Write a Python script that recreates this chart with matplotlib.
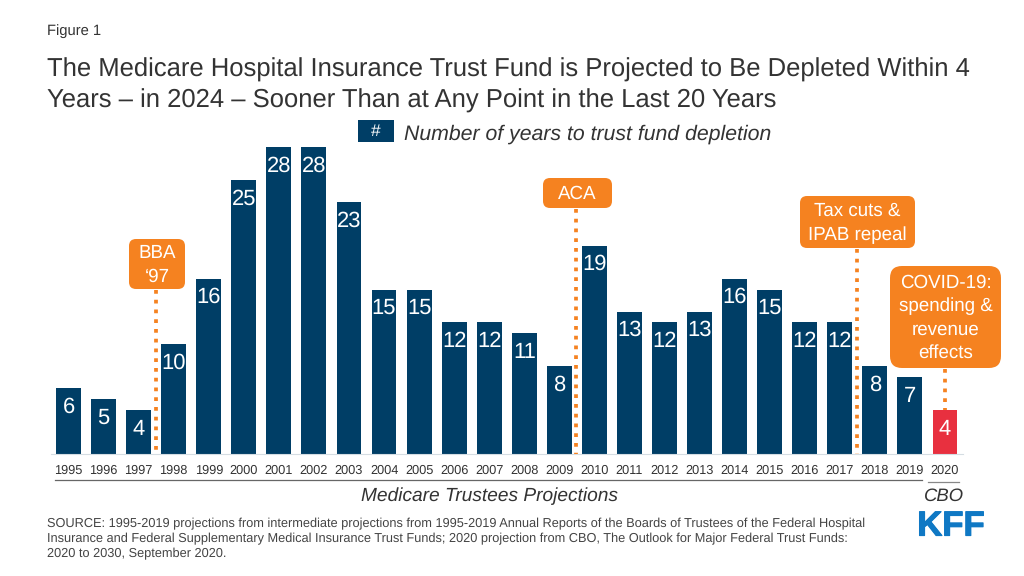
import matplotlib
matplotlib.use("Agg")
import matplotlib.pyplot as plt
import matplotlib.patheffects as pe
from matplotlib.patches import FancyBboxPatch, Rectangle

plt.rcParams["font.family"] = ["Liberation Sans", "DejaVu Sans"]
plt.rcParams["text.hinting"] = "no_hinting"
plt.rcParams["text.hinting_factor"] = 8

years = list(range(1995, 2021))
depletion_years = [6, 5, 4, 10, 16, 25, 28, 28, 23, 15, 15, 12, 12, 11, 8, 19, 13, 12, 13, 16, 15, 12, 12, 8, 7, 4]

title = ("The Medicare Hospital Insurance Trust Fund is Projected to Be Depleted Within 4\n"
         "Years \u2013 in 2024 \u2013 Sooner Than at Any Point in the Last 20 Years")
source = ("SOURCE: 1995-2019 projections from intermediate projections from 1995-2019 Annual Reports of the Boards of Trustees of the Federal Hospital\n"
          "Insurance and Federal Supplementary Medical Insurance Trust Funds; 2020 projection from CBO, The Outlook for Major Federal Trust Funds:\n"
          "2020 to 2030, September 2020.")

NAVY = "#003E66"
RED = "#E8303F"
ORANGE = "#F58220"
TEXT = "#333333"

fig = plt.figure(figsize=(10.24, 5.76), dpi=100, facecolor="white")

# bars, axes placed so one year = 35 px and one unit = 11 px
ax = fig.add_axes([51 / 1024, 122 / 576, 911.5 / 1024, 334 / 576])
colors = [NAVY] * (len(years) - 1) + [RED]
ax.bar(years, depletion_years, width=0.71, color=colors)
ax.set_xlim(1994.5, 2020.5)
ax.set_ylim(0, 334 / 10.96)
ax.set_xticks(years)
ax.set_xticklabels(years, fontsize=9.2, color=TEXT)
ax.tick_params(axis="x", length=0, pad=7.5)
ax.set_yticks([])
for side in ["top", "left", "right"]:
    ax.spines[side].set_visible(False)
ax.spines["bottom"].set_color("#d5dde3")
ax.patch.set_alpha(0)

for yr, val in zip(years, depletion_years):
    ax.annotate(str(val), (yr, val), xytext=(0, -13.5), textcoords="offset points",
                ha="center", va="center", color="white", fontsize=15.8)

# everything else in pixel coordinates
ov = fig.add_axes([0, 0, 1, 1])
ov.set_xlim(0, 1024)
ov.set_ylim(576, 0)
ov.axis("off")


def callout(x0, y0, x1, y1, text, dot_x, dot_top, dot_bottom, rad=7):
    ov.plot([dot_x, dot_x], [dot_top, dot_bottom], color=ORANGE, lw=2.7,
            linestyle=(0, (1, 1.6)), dash_capstyle="butt")
    ov.add_patch(FancyBboxPatch((x0 + rad, y0 + rad), x1 - x0 - 2 * rad, y1 - y0 - 2 * rad,
                                boxstyle=f"round,pad={rad},rounding_size={rad}",
                                fc=ORANGE, ec="none", zorder=3))
    ov.text((x0 + x1) / 2, (y0 + y1) / 2 + 1, text, color="white", fontsize=13.5,
            ha="center", va="center", linespacing=1.42, zorder=4)


callout(129, 239, 185, 289, "BBA\n\u201897", 156, 290, 454)
callout(543, 178, 612, 208, "ACA", 576, 209, 454)
callout(800, 196, 915, 248, "Tax cuts &\nIPAB repeal", 857, 249, 454)
callout(890, 266, 1001, 368, "COVID-19:\nspending &\nrevenue\neffects", 944.5, 369, 410, rad=12)

ov.text(47, 31, "Figure 1", fontsize=10.6, color=TEXT, va="center")
ov.text(47, 85.5, title, fontsize=18.42, color=TEXT, va="center", linespacing=1.36)

# legend chip
ov.add_patch(Rectangle((358, 120), 36, 22, fc=NAVY, ec="none"))
ov.text(376, 131.5, "#", color="white", fontsize=12.5, ha="center", va="center")
ov.text(404, 134.5, "Number of years to trust fund depletion", fontsize=15.34, style="italic",
        color=TEXT, va="center")

ov.plot([55, 922], [480, 480], color="#666666", lw=0.9)
ov.plot([928, 959], [482, 482], color="#888888", lw=0.9)
ov.text(489, 496.5, "Medicare Trustees Projections", fontsize=13.8, style="italic", color=TEXT,
        ha="center", va="center")
ov.text(944, 496.5, "CBO", fontsize=13.3, style="italic", color=TEXT, ha="center", va="center")

ov.text(47, 538.5, source, fontsize=9.18, color="#444444", va="center", linespacing=1.3)
ov.text(951, 526.5, "KFF", fontsize=25, fontweight="bold", color="#0F78C4", ha="center", va="center",
        path_effects=[pe.withStroke(linewidth=0.8, foreground="#0F78C4")])

fig.savefig("out.png", dpi=100)
